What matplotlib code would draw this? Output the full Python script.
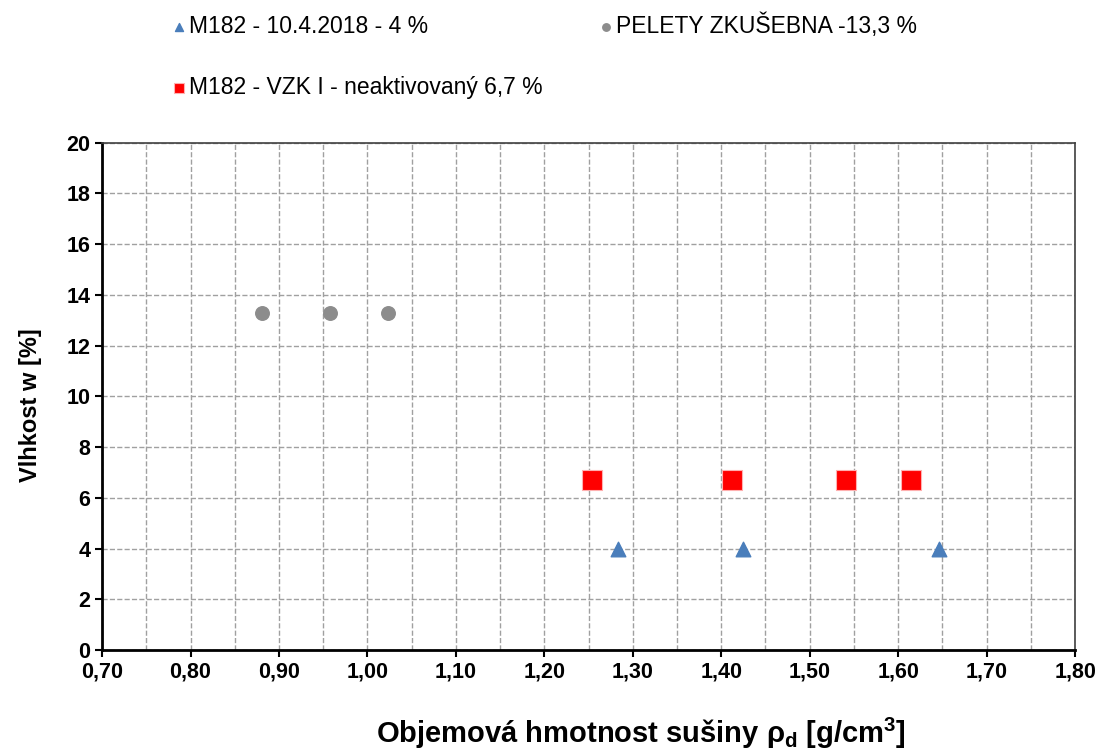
import numpy as np
import matplotlib
matplotlib.use('Agg')
import matplotlib.pyplot as plt
from matplotlib.ticker import MultipleLocator, FuncFormatter

plt.rcParams['font.family'] = ['Liberation Sans', 'DejaVu Sans']
plt.rcParams['mathtext.fontset'] = 'custom'
plt.rcParams['mathtext.rm'] = 'Liberation Sans'
plt.rcParams['mathtext.bf'] = 'Liberation Sans:bold'

# Data
tri_label = 'M182 - 10.4.2018 - 4 %'
tri_x = [1.283, 1.425, 1.646]
tri_y = [4.0, 4.0, 4.0]

dot_label = 'PELETY ZKUŠEBNA -13,3 %'
dot_x = [0.881, 0.958, 1.023]
dot_y = [13.3, 13.3, 13.3]

sq_label = 'M182 - VZK I - neaktivovaný 6,7 %'
sq_x = [1.254, 1.412, 1.541, 1.614]
sq_y = [6.7, 6.7, 6.7, 6.7]

fig = plt.figure(figsize=(11.02, 7.51), dpi=100)
ax = fig.add_axes([0.0926, 0.1345, 0.883, 0.6755])

h1 = ax.scatter(tri_x, tri_y, marker='^', s=110, color='#4A7EBB', zorder=3,
                label=tri_label)
h2 = ax.scatter(dot_x, dot_y, marker='o', s=95, color='#8C8C8C', zorder=3,
                label=dot_label)
h3 = ax.scatter(sq_x, sq_y, marker='s', s=190, color='#FF0000',
                edgecolor='#FFB0B0', linewidth=0.8, zorder=3, label=sq_label)

ax.set_xlim(0.70, 1.80)
ax.set_ylim(0, 20)
ax.xaxis.set_major_locator(MultipleLocator(0.1))
ax.xaxis.set_minor_locator(MultipleLocator(0.05))
ax.yaxis.set_major_locator(MultipleLocator(2))
ax.xaxis.set_major_formatter(FuncFormatter(lambda v, p: f'{v:.2f}'.replace('.', ',')))
ax.yaxis.set_major_formatter(FuncFormatter(lambda v, p: f'{v:.0f}'))

ax.grid(True, which='major', color='#A0A0A0', linestyle='--', linewidth=1)
ax.grid(True, which='minor', axis='x', color='#A0A0A0', linestyle='--', linewidth=1)
ax.set_axisbelow(True)

for side in ['left', 'bottom']:
    ax.spines[side].set_linewidth(2)
    ax.spines[side].set_color('black')
for side in ['top', 'right']:
    ax.spines[side].set_linewidth(1.2)
    ax.spines[side].set_color('#404040')

ax.tick_params(axis='both', which='major', direction='out', length=5, width=1.5,
               labelsize=15.5)
ax.tick_params(axis='x', which='minor', length=0)
for lbl in ax.get_xticklabels() + ax.get_yticklabels():
    lbl.set_fontweight('bold')

ax.set_ylabel('Vlhkost w [%]', fontsize=17, fontweight='bold')
ax.yaxis.set_label_coords(-0.062, 0.483)
ax.set_xlabel(r'Objemová hmotnost sušiny $\mathregular{\rho_d}$ [g/cm$\mathregular{^3}$]',
              fontsize=21, fontweight='bold', va='baseline')
ax.xaxis.set_label_coords(0.554, -0.183)

fig.legend(handles=[h1, h3, h2], loc='upper left', bbox_to_anchor=(0.134, 1.009),
           ncol=2, frameon=False, fontsize=16.5, handletextpad=0.0,
           handlelength=0.9, markerscale=0.55, columnspacing=2.3,
           labelspacing=1.65)

fig.savefig('out.png', dpi=100)
